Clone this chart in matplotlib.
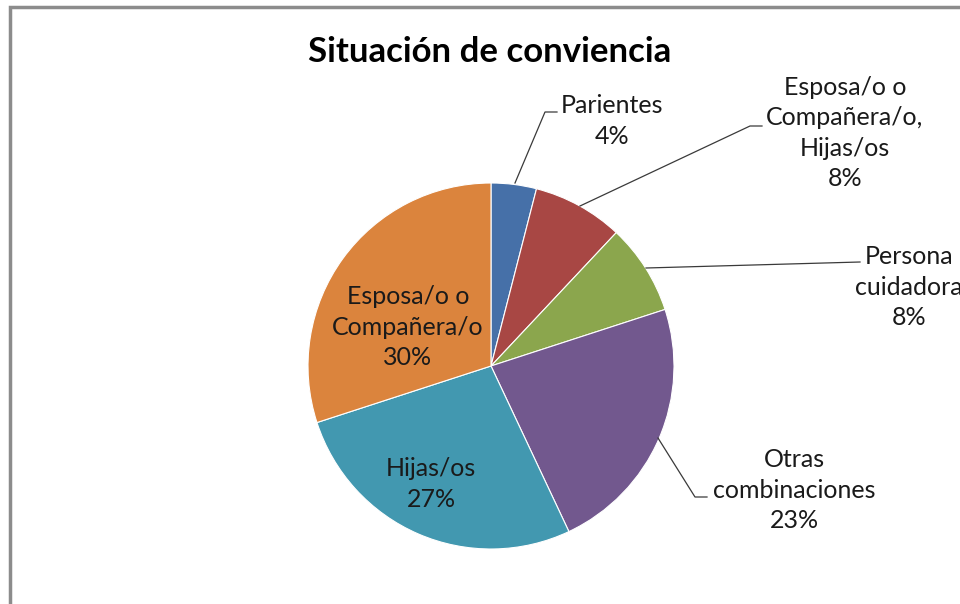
import numpy as np
import matplotlib
matplotlib.use('Agg')
import matplotlib.pyplot as plt
from matplotlib.patches import Rectangle

# data
labels = ['Parientes', 'Esposa/o o\nCompañera/o,\nHijas/os', 'Persona\ncuidadora',
          'Otras\ncombinaciones', 'Hijas/os', 'Esposa/o o\nCompañera/o']
values = [4, 8, 8, 23, 27, 30]
colors = ['#4670A8', '#A84744', '#8BA64D', '#72588E', '#4298B0', '#DB843D']

plt.rcParams['font.family'] = ['Lato', 'DejaVu Sans']

fig = plt.figure(figsize=(9.6, 6.04), dpi=100)
W, H = 960., 604.
cx, cy, R = 491., 366., 183.

# frame, cropped on right and bottom
fig.patches.append(Rectangle((10 / W, -0.1), 1.2, (H - 7) / H + 0.1, transform=fig.transFigure,
                             fill=False, edgecolor='#8c8c8c', linewidth=2.5))

ax = fig.add_axes([(cx - R) / W, (H - cy - R) / H, 2 * R / W, 2 * R / H])
wedges, _ = ax.pie(values, colors=colors, startangle=90, counterclock=False, radius=1,
                   wedgeprops=dict(edgecolor='white', linewidth=0.8))
ax.set_xlim(-1, 1)
ax.set_ylim(-1, 1)
ax.set_aspect('equal')
ax.axis('off')


def d(px, py):
    return ((px - cx) / R, (cy - py) / R)


# label layout in pixels: text center, leader start, elbow, end (None = inside)
txt_pos = [(612, 121), (845, 133), (909, 287), (794, 490), (431, 484), (408, 327)]
leaders = [[(515, 183), (545, 112), (557, 112)],
           [(580, 206), (750, 126), (762, 126)],
           [(646, 268), (860, 262)],
           [(658, 438), (695, 497), (707, 497)],
           None, None]

for lab, v, tp, ld in zip(labels, values, txt_pos, leaders):
    x, y = d(*tp)
    ax.text(x, y, '%s\n%d%%' % (lab, v), ha='center', va='center', fontsize=18,
            color='#1a1a1a', linespacing=1.4, clip_on=False)
    if ld:
        pts = np.array([d(*p) for p in ld])
        ax.plot(pts[:, 0], pts[:, 1], color='#3a3a3a', linewidth=0.9, clip_on=False)

fig.text(490 / W, 1 - 52 / H, 'Situación de conviencia', ha='center', va='center',
         fontsize=25, fontweight='bold', color='black')

fig.savefig('out.png', dpi=100)
